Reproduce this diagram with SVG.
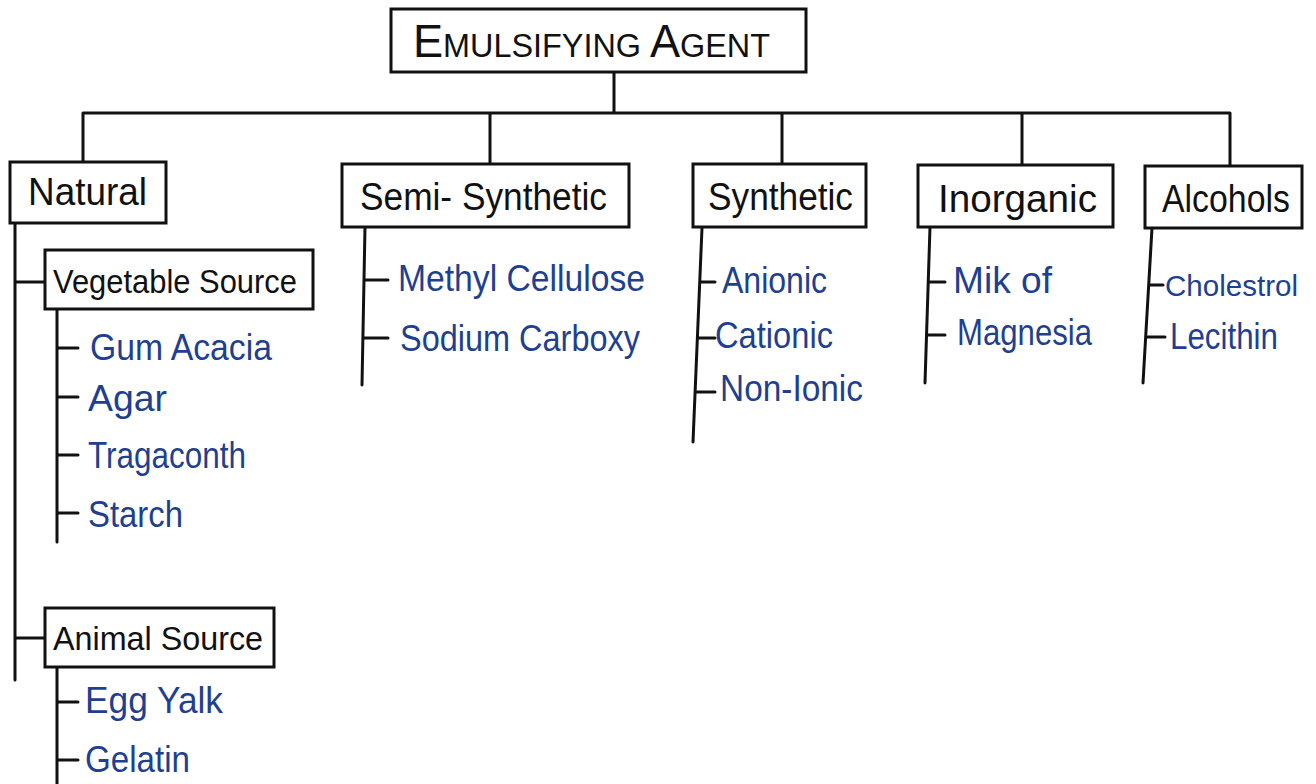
<svg xmlns="http://www.w3.org/2000/svg" width="1316" height="784" viewBox="0 0 1316 784">
<style>
.box{fill:#fff;stroke:#111;stroke-width:3}
.ln{stroke:#111;stroke-width:3;fill:none;stroke-linecap:round}
.hd{font-family:"Liberation Sans","DejaVu Sans",sans-serif;font-size:38px;fill:#111}
.sub{font-family:"Liberation Sans","DejaVu Sans",sans-serif;font-size:33px;fill:#111}
.it{font-family:"Liberation Sans","DejaVu Sans",sans-serif;font-size:36px;fill:#1f3f8f}
.sm{font-size:30px}
</style>
<rect width="1316" height="784" fill="#fff"/>
<g id="connectors">
<path class="ln" d="M614 72V113 M83 113H1230 M83 113V162 M490 113V164 M782 113V164 M1022 113V165 M1230 113V166"/>
<path class="ln" d="M15 223V680 M15 282H45 M15 638H45"/>
<path class="ln" d="M57 309V542 M57 348H78 M57 397H78 M57 455H78 M57 513H78"/>
<path class="ln" d="M57 667V784 M57 702H78 M57 760H78"/>
<path class="ln" d="M365 227L362 385 M364 280H388 M363 338H388"/>
<path class="ln" d="M702 228L693 442 M700 282H715 M698 338H715 M696 392H715"/>
<path class="ln" d="M930 227L925 383 M929 282H945 M928 335H945"/>
<path class="ln" d="M1152 228L1143 383 M1150 285H1163 M1148 337H1165"/>
</g>
<g id="root">
<rect class="box" x="391" y="9" width="415" height="63"/>
<text class="hd" x="413" y="57" textLength="357" lengthAdjust="spacingAndGlyphs"><tspan style="font-size:46px">E</tspan><tspan style="font-size:33px">MULSIFYING </tspan><tspan style="font-size:46px">A</tspan><tspan style="font-size:33px">GENT</tspan></text>
</g>
<g id="natural">
<rect class="box" x="10" y="162" width="156" height="61"/>
<text class="hd" x="28" y="205" textLength="119" lengthAdjust="spacingAndGlyphs">Natural</text>
</g>
<g id="vegetable">
<rect class="box" x="45" y="250" width="268" height="59"/>
<text class="sub" x="53" y="293" textLength="244" lengthAdjust="spacingAndGlyphs">Vegetable Source</text>
<text class="it" x="90" y="360" textLength="182" lengthAdjust="spacingAndGlyphs">Gum Acacia</text>
<text class="it" x="88" y="411" textLength="79" lengthAdjust="spacingAndGlyphs">Agar</text>
<text class="it" x="88" y="468" textLength="158" lengthAdjust="spacingAndGlyphs">Tragaconth</text>
<text class="it" x="88" y="527" textLength="95" lengthAdjust="spacingAndGlyphs">Starch</text>
</g>
<g id="animal">
<rect class="box" x="45" y="608" width="229" height="59"/>
<text class="sub" x="53" y="650" textLength="210" lengthAdjust="spacingAndGlyphs">Animal Source</text>
<text class="it" x="85" y="713" textLength="138" lengthAdjust="spacingAndGlyphs">Egg Yalk</text>
<text class="it" x="85" y="772" textLength="105" lengthAdjust="spacingAndGlyphs">Gelatin</text>
</g>
<g id="semi">
<rect class="box" x="342" y="164" width="287" height="63"/>
<text class="hd" x="360" y="210" textLength="247" lengthAdjust="spacingAndGlyphs">Semi- Synthetic</text>
<text class="it" x="398" y="291" textLength="247" lengthAdjust="spacingAndGlyphs">Methyl Cellulose</text>
<text class="it" x="400" y="351" textLength="240" lengthAdjust="spacingAndGlyphs">Sodium Carboxy</text>
</g>
<g id="synthetic">
<rect class="box" x="693" y="164" width="173" height="63"/>
<text class="hd" x="708" y="210" textLength="145" lengthAdjust="spacingAndGlyphs">Synthetic</text>
<text class="it" x="722" y="293" textLength="105" lengthAdjust="spacingAndGlyphs">Anionic</text>
<text class="it" x="715" y="348" textLength="118" lengthAdjust="spacingAndGlyphs">Cationic</text>
<text class="it" x="720" y="401" textLength="143" lengthAdjust="spacingAndGlyphs">Non-Ionic</text>
</g>
<g id="inorganic">
<rect class="box" x="918" y="165" width="195" height="62"/>
<text class="hd" x="938" y="212" textLength="159" lengthAdjust="spacingAndGlyphs">Inorganic</text>
<text class="it" x="953" y="293" textLength="99" lengthAdjust="spacingAndGlyphs">Mik of</text>
<text class="it" x="957" y="345" textLength="135" lengthAdjust="spacingAndGlyphs">Magnesia</text>
</g>
<g id="alcohols">
<rect class="box" x="1145" y="166" width="157" height="62"/>
<text class="hd" x="1162" y="212" textLength="128" lengthAdjust="spacingAndGlyphs">Alcohols</text>
<text class="it sm" x="1165" y="296" textLength="133" lengthAdjust="spacingAndGlyphs">Cholestrol</text>
<text class="it" x="1170" y="349" textLength="108" lengthAdjust="spacingAndGlyphs">Lecithin</text>
</g>
</svg>
